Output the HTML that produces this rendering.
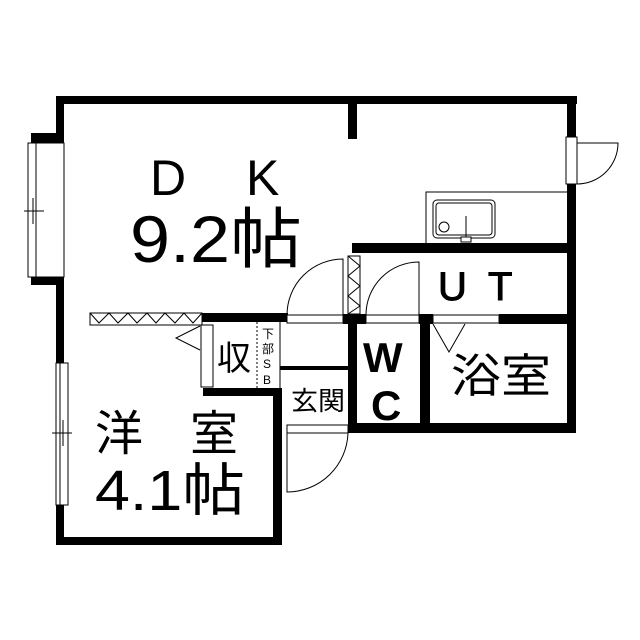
<!DOCTYPE html>
<html><head><meta charset="utf-8"><style>
html,body{margin:0;padding:0;background:#fff;}
svg{display:block;}
text{font-family:"Liberation Sans","Noto Sans CJK JP",sans-serif;fill:#000;}
</style></head><body>
<svg width="640" height="640" viewBox="0 0 640 640" xmlns="http://www.w3.org/2000/svg">
<rect width="640" height="640" fill="#fff"/>
<g fill="#000">
<rect x="56" y="96" width="521" height="8"/>
<rect x="56" y="96" width="8" height="40"/>
<rect x="31" y="133" width="33" height="10"/>
<rect x="31" y="277" width="33" height="8"/>
<rect x="56" y="277" width="8" height="268"/>
<rect x="56" y="537" width="226" height="8"/>
<rect x="273" y="388" width="9" height="157"/>
<rect x="348" y="96" width="9" height="43"/>
<rect x="567" y="96" width="9" height="337"/>
<rect x="352" y="243" width="224" height="10"/>
<rect x="202" y="313" width="86" height="9"/>
<rect x="343" y="314" width="23" height="10"/>
<rect x="419" y="314" width="14" height="10"/>
<rect x="499" y="314" width="77" height="10"/>
<rect x="348" y="314" width="9" height="119"/>
<rect x="420" y="314" width="10" height="119"/>
<rect x="348" y="423" width="228" height="10"/>
<rect x="203" y="388" width="79" height="8"/>
<rect x="280" y="366" width="68" height="4"/>
</g>
<g fill="#fff" stroke="#000" stroke-width="1">
<rect x="28" y="143" width="36" height="134"/>
<line x1="36" y1="143" x2="36" y2="277"/>
<line x1="24" y1="211" x2="44" y2="211"/>
<line x1="33" y1="198" x2="33" y2="224"/>
<rect x="56" y="363" width="12" height="142"/>
<line x1="60" y1="363" x2="60" y2="505"/>
<line x1="52" y1="433" x2="72" y2="433"/>
<line x1="63" y1="420" x2="63" y2="446"/>
<rect x="90" y="313" width="112" height="12"/>
<polyline points="90,313 99,323 109,313 118,323 128,313 137,323 147,313 156,323 165,313 175,323 184,313 193,323 202,313" fill="none"/>
<rect x="201" y="325" width="12" height="62"/>
<polyline points="200,326 176,338 200,350" fill="none"/>
<rect x="566" y="137" width="11" height="47"/>
<path d="M577,184 A41,41 0 0 0 618,143 L577,143" fill="none"/>
<path d="M426,243 L426,192 L567,192" fill="none"/>
<rect x="433" y="200" width="62" height="38" rx="4"/>
<rect x="436" y="203" width="56" height="32" rx="3"/>
<circle cx="444" cy="227" r="5"/>
<line x1="466" y1="216" x2="466" y2="237"/>
<rect x="461" y="237" width="10" height="5"/>
<rect x="348" y="256" width="12" height="58"/>
<polyline points="348,256 360,266 348,276 360,286 348,296 360,306 348,314" fill="none"/>
<rect x="287" y="315" width="56" height="8"/>
<path d="M287,315 A56,56 0 0 1 343,259 L343,315" fill="none"/>
<rect x="366" y="315" width="53" height="8"/>
<path d="M366,315 A53,53 0 0 1 419,262 L419,315" fill="none"/>
<rect x="433" y="315" width="66" height="8"/>
<polyline points="433,324 449,352 465,324" fill="none"/>
<line x1="280" y1="322" x2="280" y2="388"/>
<rect x="287" y="425" width="61" height="8"/>
<path d="M348,433 A61,61 0 0 1 287,492 L287,433" fill="none"/>
</g>
<line x1="257" y1="322" x2="257" y2="388" stroke="#000" stroke-width="1" stroke-dasharray="2,2"/>
<text x="150" y="195" font-size="50">D</text>
<text x="246" y="195" font-size="50">K</text>
<text transform="translate(130,262) scale(1,1.18)" font-size="56" textLength="172" lengthAdjust="spacingAndGlyphs">9.2帖</text>
<text x="438" y="300" font-size="40" stroke="#000" stroke-width="1">U</text>
<text x="488" y="300" font-size="40" stroke="#000" stroke-width="1">T</text>
<text x="363" y="372" font-size="42" font-weight="bold">W</text>
<text x="371" y="420" font-size="42" font-weight="bold">C</text>
<text x="451" y="392" font-size="46" textLength="100" lengthAdjust="spacingAndGlyphs">浴室</text>
<text x="291" y="410" font-size="26" textLength="54" lengthAdjust="spacingAndGlyphs">玄関</text>
<text x="217" y="370" font-size="34">収</text>
<text x="262" y="338" font-size="12">下</text>
<text x="262" y="353" font-size="12">部</text>
<text x="263" y="368" font-size="12">S</text>
<text x="263" y="384" font-size="12">B</text>
<text x="95" y="450" font-size="48">洋</text>
<text x="190" y="450" font-size="48">室</text>
<text transform="translate(95,510) scale(1,1.05)" font-size="54" textLength="150" lengthAdjust="spacingAndGlyphs">4.1帖</text>
</svg>
</body></html>
